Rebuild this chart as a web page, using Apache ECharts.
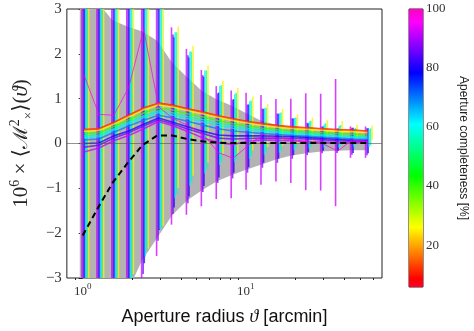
<!DOCTYPE html>
<html><head><meta charset="utf-8">
<script src="https://cdn.jsdelivr.net/npm/echarts@6/dist/echarts.min.js"></script>
<style>html,body{margin:0;padding:0;background:#fff}#c{width:474px;height:331px}</style>
</head><body><div id="c"></div>
<script>
// ---------------- data ----------------
const radii = [1.000,1.234,1.523,1.880,2.320,2.864,3.534,4.362,5.384,6.645,8.201,10.12,12.49,15.42,19.03,23.49,28.99,35.78,44.16,54.60];
const xLimits = [0.8, 68.25];
const yLimits = [-3, 3];
const xMajorTicks = [1, 10];
const xMinorTicks = [0.9,2,3,4,5,6,7,8,9,20,30,40,50,60];
const cbLimits = [5.8, 100];
const cbTicks = [20, 40, 60, 80, 100];

// mean signal per aperture-completeness bin (10^6 x <M_x^2>)
const mC8  = [0.31,0.33,0.47,0.63,0.79,0.90,0.85,0.77,0.70,0.62,0.55,0.49,0.44,0.40,0.37,0.35,0.33,0.31,0.30,0.28];
const mC15 = [0.30,0.32,0.46,0.62,0.78,0.89,0.84,0.76,0.69,0.61,0.54,0.48,0.43,0.39,0.36,0.34,0.32,0.30,0.29,0.27];
const mC25 = [0.27,0.29,0.43,0.59,0.75,0.86,0.81,0.73,0.66,0.58,0.51,0.45,0.40,0.36,0.33,0.31,0.29,0.27,0.26,0.24];
const mC40 = [0.22,0.24,0.38,0.53,0.68,0.79,0.74,0.66,0.59,0.51,0.44,0.39,0.34,0.31,0.28,0.26,0.24,0.22,0.21,0.19];
const mC55 = [0.17,0.19,0.33,0.48,0.62,0.73,0.68,0.60,0.53,0.45,0.39,0.34,0.30,0.27,0.24,0.22,0.20,0.18,0.16,0.15];
const mC62 = [0.13,0.15,0.30,0.44,0.58,0.69,0.63,0.55,0.48,0.40,0.34,0.30,0.27,0.24,0.21,0.19,0.17,0.15,0.13,0.12];
const mC70 = [0.08,0.10,0.25,0.39,0.52,0.63,0.57,0.49,0.41,0.33,0.28,0.25,0.22,0.20,0.18,0.16,0.14,0.12,0.10,0.09];
const mC80 = [0.00,0.01,0.17,0.28,0.43,0.57,0.47,0.37,0.27,0.19,0.17,0.17,0.17,0.16,0.15,0.13,0.11,0.09,0.07,0.06];
const mC86 = [-0.08,-0.04,0.12,0.24,0.39,0.53,0.43,0.32,0.22,0.12,0.10,0.11,0.12,0.12,0.11,0.10,0.08,0.06,0.05,0.04];
const mC92 = [-0.19,-0.10,0.06,0.18,0.33,0.49,0.39,0.26,0.12,0.02,-0.02,0.05,0.08,0.07,0.06,0.04,0.03,0.02,0.03,0.03];
const mC98 = [1.53,0.65,0.63,1.25,2.55,0.82,0.55,0.40,0.20,-0.20,-0.33,-0.05,0.20,0.12,0.08,0.05,0.00,-0.17,0.08,0.05];

// error bar half widths per bin
const sC92 = [6.0,5.5,5.0,4.5,3.6,3.0,2.2,1.85,1.52,1.26,1.20,1.08,1.00,0.92,0.94,1.08,1.08,1.42,0.35,0.35];
const sC86 = [5.5,5.0,4.5,4.0,3.3,2.7,2.0,1.65,1.30,1.00,0.88,0.76,0.66,0.55,0.45,0.36,0.30,0.27,0.30,0.30];
const sC80 = [5.0,4.6,4.2,3.7,3.1,2.5,1.9,1.55,1.22,0.95,0.82,0.70,0.60,0.50,0.41,0.32,0.27,0.25,0.28,0.28];
const sC62 = [5.0,4.5,4.0,3.6,3.1,2.6,1.85,1.50,1.15,0.88,0.76,0.64,0.52,0.44,0.36,0.30,0.26,0.24,0.20,0.20];
const sC55 = [4.8,4.4,3.9,3.5,3.0,2.6,1.80,1.45,1.10,0.85,0.74,0.62,0.50,0.42,0.34,0.29,0.25,0.23,0.19,0.19];
const sC25 = [4.8,4.4,3.9,3.5,3.1,2.7,1.80,1.45,1.08,0.82,0.73,0.60,0.48,0.41,0.32,0.27,0.24,0.23,0.16,0.16];

// model prediction (dashed) and its envelope (grey band)
const modelMean = [-2.05,-1.45,-0.88,-0.44,-0.04,0.18,0.18,0.10,0.05,0.02,0.01,0.01,0.01,0.01,0.01,0.01,0.01,0.01,0.01,0.01];
const bandR     = [0.96,1.000,1.234,1.523,1.880,2.320,2.864,3.534,4.362,5.384,6.645,8.201,10.12,12.49,15.42,19.03,23.49,28.99,35.78,44.16,54.60];
const bandUpper = [3.6,3.5,3.15,2.75,2.61,2.50,2.29,1.80,1.48,1.17,0.98,0.84,0.67,0.50,0.42,0.36,0.32,0.29,0.27,0.26,0.24];
const bandLower = [-5.2,-5.0,-4.6,-4.1,-3.3,-2.6,-2.1,-1.6,-1.27,-1.04,-0.84,-0.70,-0.58,-0.47,-0.35,-0.27,-0.22,-0.18,-0.16,-0.15,-0.15];

// ---------------- styling ----------------
const lineBins = [[8,mC8],[15,mC15],[25,mC25],[40,mC40],[55,mC55],[62,mC62],[70,mC70],[80,mC80],[86,mC86],[92,mC92],[98,mC98]];
const barBins  = [[92,mC92,sC92],[86,mC86,sC86],[80,mC80,sC80],[62,mC62,sC62],[55,mC55,sC55],[25,mC25,sC25]];
const barOffsetDex = [-0.004,0.005,0.012,0.018,0.027,0.037];
const lineOffsetDex = 0.008;
const RAINBOW = [[0.000,[1,0,0.16]],[0.030,[1,0,0]],[0.215,[1,1,0]],[0.400,[0,1,0]],[0.586,[0,1,1]],[0.770,[0,0,1]],[0.954,[1,0,1]],[1.000,[1,0,0.75]]];
function rgb(a){return 'rgb('+a.map(v=>Math.round(v*255)).join(',')+')';}
function cmap(c){
  let t=(c-cbLimits[0])/(cbLimits[1]-cbLimits[0]); t=Math.max(0,Math.min(1,t));
  for(let i=1;i<RAINBOW.length;i++){
    if(t<=RAINBOW[i][0]){const [t0,c0]=RAINBOW[i-1],[t1,c1]=RAINBOW[i];const f=(t-t0)/(t1-t0);
      return rgb(c0.map((v,j)=>v+(c1[j]-v)*f));}
  }
  return rgb(RAINBOW[RAINBOW.length-1][1]);
}
const L = Math.log10;
const SERIF = '"Liberation Serif","DejaVu Serif",serif';
const MATH = '"DejaVu Serif","Liberation Serif",serif';
const SANS = '"Liberation Sans","DejaVu Sans",sans-serif';

const series = [];
// grey band
series.push({
  type:'custom', xAxisIndex:0, yAxisIndex:0, clip:true, z:1, silent:true,
  data: bandR.map((r,i)=>[L(r),bandUpper[i],bandLower[i]]),
  renderItem:(params,api)=>{
    if(params.dataIndex!==0) return null;
    const up=bandR.map((r,i)=>api.coord([L(r),bandUpper[i]]));
    const lo=bandR.map((r,i)=>api.coord([L(r),bandLower[i]])).reverse();
    return {type:'polygon',shape:{points:up.concat(lo)},style:{fill:'#b3b3b3'}};
  },
  markLine:{silent:true,symbol:'none',label:{show:false},animation:false,
    lineStyle:{color:'#555',width:0.8,type:'solid',opacity:0.8},data:[{yAxis:0}]}
});
// error bars
barBins.forEach(([c,m,s],b)=>{
  const col=cmap(c);
  series.push({
    type:'custom', xAxisIndex:0, yAxisIndex:0, clip:true, z:2, silent:true,
    data: radii.map((r,k)=>[L(r)+barOffsetDex[b], m[k]-s[k], m[k]+s[k]]),
    renderItem:(params,api)=>{
      const p1=api.coord([api.value(0),api.value(1)]), p2=api.coord([api.value(0),api.value(2)]);
      return {type:'line',shape:{x1:p1[0],y1:p1[1],x2:p2[0],y2:p2[1]},style:{stroke:col,lineWidth:1.6,opacity:0.75}};
    }
  });
});
// mean lines
lineBins.forEach(([c,m])=>{
  const thin = c>=98;
  series.push({
    type:'line', xAxisIndex:0, yAxisIndex:0, z:3, silent:true, showSymbol:false, symbol:'none',
    data: radii.map((r,k)=>[L(r)+lineOffsetDex, m[k]]),
    lineStyle:{color:cmap(c), width: thin?0.9:1.6, opacity: thin?0.8:0.75}
  });
});
// model dashed
series.push({
  type:'line', xAxisIndex:0, yAxisIndex:0, z:5, silent:true, showSymbol:false, symbol:'none',
  data: radii.map((r,k)=>[L(r), modelMean[k]]),
  lineStyle:{color:'#000', width:2, type:[6,4]}
});
// colorbar
series.push({
  type:'custom', xAxisIndex:2, yAxisIndex:1, silent:true, z:1,
  data:[[0, cbLimits[0], cbLimits[1]]],
  renderItem:(params,api)=>{
    const p1=api.coord([0,cbLimits[1]]), p2=api.coord([1,cbLimits[0]]);
    const stops=RAINBOW.map(([t,c])=>({offset:1-t,color:rgb(c)})).reverse();
    return {type:'rect',shape:{x:p1[0],y:p1[1],width:p2[0]-p1[0],height:p2[1]-p1[1]},
      style:{fill:new echarts.graphic.LinearGradient(0,0,0,1,stops)}};
  }
});

const option = {
  animation:false,
  backgroundColor:'#fff',
  grid:[
    {left:53, top:9, width:329, height:278, show:true, borderColor:'#222', borderWidth:1, backgroundColor:'transparent'},
    {left:409, top:9, width:14, height:278, show:true, borderColor:'#222', borderWidth:1, backgroundColor:'transparent'}
  ],
  xAxis:[
    {type:'value', gridIndex:0, min:L(xLimits[0]), max:L(xLimits[1]), position:'bottom',
     axisLine:{show:false}, splitLine:{show:false},
     axisTick:{show:true, inside:false, length:4, customValues:xMajorTicks.map(L), lineStyle:{color:'#222'}},
     axisLabel:{show:true, customValues:xMajorTicks.map(L), margin:4,
       formatter:v=>'{b|10}{e|'+Math.round(v)+'}',
       rich:{b:{fontFamily:SERIF,fontSize:13,color:'#333',verticalAlign:'bottom',lineHeight:16},
             e:{fontFamily:SERIF,fontSize:9,color:'#333',verticalAlign:'top',lineHeight:16}}},
     name:'{t|Aperture radius }{i|ϑ}{t| [arcmin]}', nameLocation:'middle', nameGap:30,
     nameTextStyle:{rich:{t:{fontFamily:SANS,fontSize:18,color:'#111'},i:{fontFamily:SERIF,fontStyle:'italic',fontSize:18,color:'#111'}}}},
    {type:'value', gridIndex:0, min:L(xLimits[0]), max:L(xLimits[1]), position:'bottom',
     axisLine:{show:false}, splitLine:{show:false}, axisLabel:{show:false},
     axisTick:{show:true, inside:false, length:2, customValues:xMinorTicks.map(L), lineStyle:{color:'#222'}}},
    {type:'value', gridIndex:1, min:0, max:1, show:false}
  ],
  yAxis:[
    {type:'value', gridIndex:0, min:yLimits[0], max:yLimits[1], interval:1,
     axisLine:{show:false}, splitLine:{show:false},
     axisTick:{show:true, inside:false, length:4, lineStyle:{color:'#222'}},
     axisLabel:{fontFamily:SERIF, fontSize:15, color:'#333', margin:5,
       formatter:v=> v<0 ? '\u2212'+(-v) : String(v)},
     name:'{n|10}{s|6}{n| × ⟨}{m|ℳ}{s|2}{u|×}{n|⟩(}{i|ϑ}{n|)}',
     nameLocation:'middle', nameGap:22,
     nameTextStyle:{rich:{
       n:{fontFamily:SERIF,fontSize:21,color:'#222',lineHeight:27},
       i:{fontFamily:SERIF,fontStyle:'italic',fontSize:21,color:'#222',lineHeight:27},
       m:{fontFamily:MATH,fontSize:20,color:'#222',lineHeight:27},
       s:{fontFamily:SERIF,fontSize:14,color:'#222',verticalAlign:'top',lineHeight:27},
       u:{fontFamily:SERIF,fontSize:13,color:'#222',verticalAlign:'bottom',lineHeight:27}}}},
    {type:'value', gridIndex:1, min:cbLimits[0], max:cbLimits[1], position:'right',
     axisLine:{show:false}, splitLine:{show:false},
     axisTick:{show:true, inside:false, length:3, customValues:cbTicks, lineStyle:{color:'#222'}},
     axisLabel:{customValues:cbTicks, fontFamily:SERIF, fontSize:13, color:'#333', margin:3},
     name:'Aperture completeness [%]', nameLocation:'middle', nameRotate:-90, nameGap:34,
     nameTextStyle:{fontFamily:SANS, fontSize:12, color:'#222'}}
  ],
  series
};
const chart = echarts.init(document.getElementById('c'), null, {renderer:'canvas'});
chart.setOption(option);
</script>
</body></html>
